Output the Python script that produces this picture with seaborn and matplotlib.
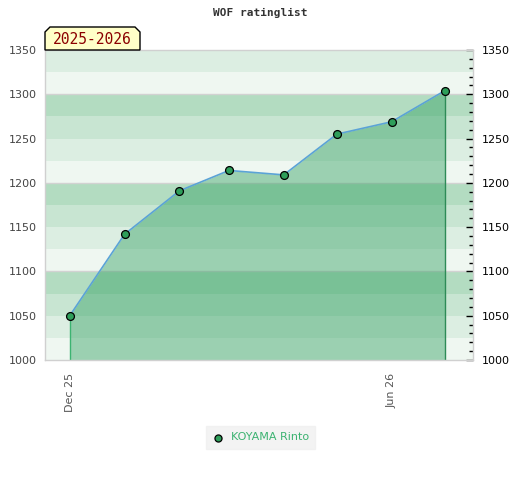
import seaborn as sns
import matplotlib.pyplot as plt
import matplotlib.dates as mdates
from matplotlib.patches import Polygon
import pandas as pd
import numpy as np

# Monthly rating points
dates = ["2025-12-01", "2026-01-01", "2026-02-01", "2026-03-01",
         "2026-04-01", "2026-05-01", "2026-06-01", "2026-07-01"]
ratings = [1050, 1142, 1191, 1214, 1209, 1255, 1269, 1304]
player = "KOYAMA Rinto"
season = "2025-2026"
tick_dates = ["2025-12-01", "2026-06-01"]
tick_labels = ["Dec 25", "Jun 26"]

df = pd.DataFrame({"date": pd.to_datetime(dates), "rating": ratings})

sns.set_style("white")
plt.rcParams['font.family'] = ['DejaVu Sans']

fig = plt.figure(figsize=(5.2, 4.8), dpi=100)
ax = fig.add_axes([45 / 520, 120 / 480, 428 / 520, 310 / 480])

# Striped background bands, repeating every 100 points
band_colors = ["#eff7f1", "#dceee2", "#c8e5d2", "#b3dcc1"]
for i, lo in enumerate(np.arange(1000, 1350, 25)):
    ax.axhspan(lo, lo + 25, color=band_colors[i % 4], lw=0, zorder=0)
for y in [1100, 1200, 1300]:
    ax.axhline(y, color="#d2d2d2", lw=1, zorder=0.5)

# Filled area under the rating line
ax.fill_between(df["date"], df["rating"], 1000, color="#2e9e5e", alpha=0.43, lw=0, zorder=1)
ax.vlines(df["date"].iloc[0], 1000, df["rating"].iloc[0], color="#3cb371", lw=1, zorder=2)
ax.vlines(df["date"].iloc[-1], 1000, df["rating"].iloc[-1], color="#2e8b57", lw=1, zorder=2)

sns.lineplot(data=df, x="date", y="rating", ax=ax, color="#5ba3d6", lw=1.2, legend=False, zorder=3)
sns.scatterplot(data=df, x="date", y="rating", ax=ax, color="#2e9e5a", edgecolor="black",
                linewidth=0.9, s=32, label=player, zorder=4, legend=False)

ax.set_xlim(pd.Timestamp("2025-11-17"), pd.Timestamp("2026-07-17"))
ax.set_ylim(1000, 1350)
ax.set_xlabel("")
ax.set_ylabel("")

ax.set_xticks(pd.to_datetime(tick_dates))
ax.set_xticklabels(tick_labels, rotation=90, fontsize=8, color="#555555")
ax.tick_params(axis="x", length=0, pad=9)

ax.set_yticks(np.arange(1000, 1351, 50))
ax.set_yticks(np.arange(1000, 1351, 10), minor=True)
ax.tick_params(axis="y", which="both", left=False, right=True, labelleft=True, labelright=True,
               direction="in", labelsize=8, pad=6)
ax.tick_params(axis="y", which="major", length=5, width=1, color="black")
ax.tick_params(axis="y", which="minor", length=3, width=1, color="black")
for t in ax.yaxis.get_major_ticks():
    t.label1.set_color("#444444")
    t.label2.set_color("black")

for s in ax.spines.values():
    s.set_color("#d0d0d0")
    s.set_linewidth(1)

# Title
fig.text(0.5, 1 - 13 / 480, "WOF ratinglist", ha="center", va="center",
         family="DejaVu Sans Mono", fontweight="bold", fontsize=8, color="#333333")

# Season tag with chamfered top corners
x0, x1, y0, y1, c = 45, 140, 50, 27, 5
pts = [(x0, y0), (x0, y1 + c), (x0 + c, y1), (x1 - c, y1), (x1, y1 + c), (x1, y0)]
pts = [(px / 520, 1 - py / 480) for px, py in pts]
fig.add_artist(Polygon(pts, closed=True, facecolor="#ffffc8", edgecolor="black", lw=1,
                       transform=fig.transFigure, zorder=10))
fig.text(92.5 / 520, 1 - 39.5 / 480, season, ha="center", va="center", family="DejaVu Sans Mono",
         fontsize=10.5, color="#8b0000", zorder=11)

# Legend
handles, labels = ax.get_legend_handles_labels()
leg = fig.legend(handles, labels, loc="center", bbox_to_anchor=(260.5 / 520, 1 - 437.5 / 480),
                 frameon=True, fancybox=False, facecolor="#f0f0f0", edgecolor="#f0f0f0",
                 fontsize=8, labelcolor="#3cb371", handletextpad=0.7, borderpad=0.55,
                 handlelength=1.0, markerscale=0.9)

fig.savefig("out.png", dpi=100)
